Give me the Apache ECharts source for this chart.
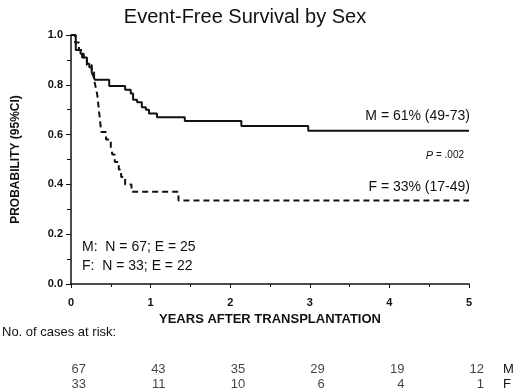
<!DOCTYPE html>
<html>
<head>
<meta charset="utf-8">
<script src="https://cdn.jsdelivr.net/npm/echarts@6/dist/echarts.min.js"></script>
<style>
  html, body { margin: 0; padding: 0; background: #fff; }
  #chart { width: 520px; height: 392px; }
</style>
</head>
<body>
<div id="chart"></div>
<script>
// 生存曲线数据（年, 生存概率）
const mTimes = [0, 0.06, 0.12, 0.16, 0.2, 0.23, 0.26, 0.28, 0.3, 0.48, 0.68, 0.75, 0.78, 0.83, 0.89, 0.94, 0.98, 1.08, 1.43, 2.14, 2.98, 5]
const mSurv = [1.0, 0.94, 0.925, 0.91, 0.885, 0.87, 0.85, 0.835, 0.82, 0.795, 0.78, 0.765, 0.74, 0.73, 0.71, 0.70, 0.685, 0.67, 0.655, 0.635, 0.615, 0.615]
const fTimes = [0, 0.05, 0.1, 0.14, 0.2, 0.26, 0.29, 0.31, 0.33, 0.34, 0.35, 0.36, 0.37, 0.38, 0.44, 0.5, 0.52, 0.55, 0.6, 0.63, 0.68, 0.76, 1.35, 5]
const fSurv = [1.0, 0.97, 0.94, 0.91, 0.88, 0.85, 0.82, 0.79, 0.76, 0.73, 0.70, 0.67, 0.64, 0.61, 0.58, 0.55, 0.52, 0.49, 0.46, 0.43, 0.40, 0.37, 0.335, 0.335]

// 风险人数表
const riskYears = [0, 1, 2, 3, 4, 5]
const riskM = [67, 43, 35, 29, 19, 12]
const riskF = [33, 11, 10, 6, 4, 1]
const groups = ['M', 'F']

const FONT = '"Liberation Sans", Arial, sans-serif'
const INK = '#111'

const toPairs = (xs, ys) => xs.map((x, i) => [x, ys[i]])
const riskPoints = (vals, g) => riskYears.map((yr, i) => ({ value: [yr, g], label: { formatter: String(vals[i]) } }))

const chart = echarts.init(document.getElementById('chart'), null, { renderer: 'canvas' })

const option = {
  animation: false,
  backgroundColor: '#fff',
  textStyle: { fontFamily: FONT, color: INK },
  title: {
    text: 'Event-Free Survival by Sex',
    left: 240,
    top: 2,
    textAlign: 'center',
    textStyle: { fontFamily: FONT, fontSize: 20, fontWeight: 'normal', color: INK },
  },
  grid: [
    { left: 71, right: 51, top: 35, bottom: 108 },
    { left: 71, right: 51, top: 362, height: 32 },
  ],
  xAxis: [
    {
      gridIndex: 0,
      type: 'value',
      min: 0,
      max: 5,
      interval: 1,
      name: 'YEARS AFTER TRANSPLANTATION',
      nameLocation: 'middle',
      nameGap: 29,
      nameTextStyle: { fontFamily: FONT, fontSize: 13, fontWeight: 'bold', color: INK },
      axisLine: { show: true, lineStyle: { color: INK, width: 1.5 } },
      axisTick: { show: true, length: 4, lineStyle: { color: INK } },
      minorTick: { show: true, splitNumber: 2, length: 3, lineStyle: { color: INK } },
      axisLabel: { fontFamily: FONT, fontSize: 11, fontWeight: 'bold', color: INK, margin: 13 },
      splitLine: { show: false },
    },
    {
      gridIndex: 1,
      type: 'value',
      min: 0,
      max: 5,
      show: false,
    },
  ],
  yAxis: [
    {
      gridIndex: 0,
      type: 'value',
      min: 0,
      max: 1,
      interval: 0.2,
      name: 'PROBABILITY (95%CI)',
      nameLocation: 'middle',
      nameGap: 49,
      nameTextStyle: { fontFamily: FONT, fontSize: 12, fontWeight: 'bold', color: INK },
      axisLine: { show: true, lineStyle: { color: INK, width: 1.5 } },
      axisTick: { show: true, length: 5, lineStyle: { color: INK } },
      minorTick: { show: true, splitNumber: 2, length: 4, lineStyle: { color: INK } },
      axisLabel: {
        fontFamily: FONT, fontSize: 11, fontWeight: 'bold', color: INK, margin: 8,
        formatter: (v) => v.toFixed(1),
      },
      splitLine: { show: false },
    },
    {
      gridIndex: 1,
      type: 'category',
      data: groups,
      inverse: true,
      position: 'right',
      axisLine: { show: false },
      axisTick: { show: false },
      axisLabel: { interval: 0, fontFamily: FONT, fontSize: 13, color: INK, margin: 34 },
    },
  ],
  series: [
    {
      name: 'M',
      type: 'line',
      step: 'end',
      xAxisIndex: 0,
      yAxisIndex: 0,
      symbol: 'none',
      data: toPairs(mTimes, mSurv),
      lineStyle: { color: INK, width: 2 },
    },
    {
      name: 'F',
      type: 'line',
      step: 'end',
      xAxisIndex: 0,
      yAxisIndex: 0,
      symbol: 'none',
      data: toPairs(fTimes, fSurv),
      lineStyle: { color: INK, width: 2, type: [6, 4] },
    },
    {
      type: 'scatter',
      xAxisIndex: 1,
      yAxisIndex: 1,
      symbolSize: 0,
      data: riskPoints(riskM, 'M').concat(riskPoints(riskF, 'F')),
      label: {
        show: true,
        position: [15, 0],
        align: 'right',
        verticalAlign: 'middle',
        fontFamily: FONT,
        fontSize: 13,
        color: INK,
      },
    },
  ],
  graphic: [
    {
      type: 'text', right: 50, top: 109,
      style: { text: 'M = 61% (49-73)', font: '14px ' + FONT, fill: INK },
    },
    {
      type: 'text', right: 56, top: 150,
      style: {
        text: '{i|P} = .002',
        font: '10px ' + FONT,
        fill: INK,
        rich: { i: { fontStyle: 'italic', fontSize: 11, fontFamily: FONT } },
      },
    },
    {
      type: 'text', right: 50, top: 180,
      style: { text: 'F = 33% (17-49)', font: '14px ' + FONT, fill: INK },
    },
    {
      type: 'text', left: 82, top: 240,
      style: { text: 'M:  N = 67; E = 25', font: '14px ' + FONT, fill: INK },
    },
    {
      type: 'text', left: 82, top: 259,
      style: { text: 'F:  N = 33; E = 22', font: '14px ' + FONT, fill: INK },
    },
    {
      type: 'text', left: 2, top: 326,
      style: { text: 'No. of cases at risk:', font: '13px ' + FONT, fill: INK },
    },
  ],
}

chart.setOption(option)
</script>
</body>
</html>
